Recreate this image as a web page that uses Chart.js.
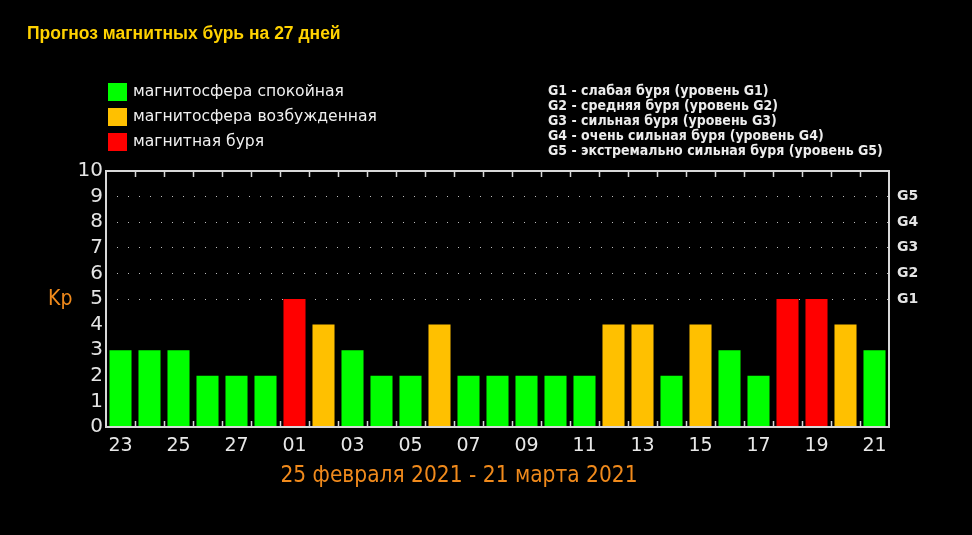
<!DOCTYPE html>
<html>
<head>
<meta charset="utf-8">
<title>Kp</title>
<script src="https://cdn.jsdelivr.net/npm/chart.js@4"></script>
<style>
  html, body { margin: 0; padding: 0; background: #000; }
  #wrap { width: 972px; height: 535px; position: relative; }
</style>
</head>
<body>
<div id="wrap"><canvas id="kp"></canvas></div>
<script>
// данные прогноза (23 февраля - 21 марта)
const days = ['23','24','25','26','27','28','01','02','03','04','05','06','07','08',
              '09','10','11','12','13','14','15','16','17','18','19','20','21'];
const kpValues = [3,3,3,2,2,2,5,4,3,2,2,4,2,2,2,2,2,4,4,2,4,3,2,5,5,4,3];
const gLevels = ['G1','G2','G3','G4','G5']; // Kp 5..9
const legendLabels = ['магнитосфера спокойная', 'магнитосфера возбужденная', 'магнитная буря'];
const legendColors = ['#00ff00', '#ffc000', '#ff0000'];
const gNotes = [
  'G1 - слабая буря (уровень G1)',
  'G2 - средняя буря (уровень G2)',
  'G3 - сильная буря (уровень G3)',
  'G4 - очень сильная буря (уровень G4)',
  'G5 - экстремально сильная буря (уровень G5)'
];
const titleText = 'Прогноз магнитных бурь на 27 дней';
const periodText = '25 февраля 2021 - 21 марта 2021';

const orange = '#f08a1c';
const frameColor = '#d8d8d8';

// цвет столбика по уровню Kp
function barColor(v) {
  if (v >= 5) return legendColors[2];
  if (v >= 4) return legendColors[1];
  return legendColors[0];
}

const decor = {
  id: 'decor',
  beforeDraw(chart) {
    const c = chart.ctx;
    c.save();
    c.fillStyle = '#000';
    c.fillRect(0, 0, chart.width, chart.height);
    c.restore();
  },
  afterDraw(chart) {
    const c = chart.ctx;
    const a = chart.chartArea;
    const xs = chart.scales.x;
    c.save();

    // рамка
    c.strokeStyle = frameColor;
    c.lineWidth = 2;
    c.strokeRect(a.left, a.top, a.right - a.left, a.bottom - a.top);

    // засечки между днями
    c.lineWidth = 1.5;
    c.beginPath();
    for (let i = 0; i < days.length - 1; i++) {
      const px = Math.round((xs.getPixelForValue(i) + xs.getPixelForValue(i + 1)) / 2) + 0.5;
      c.moveTo(px, a.top); c.lineTo(px, a.top + 6);
      c.moveTo(px, a.bottom); c.lineTo(px, a.bottom - 6);
    }
    c.stroke();

    // заголовок
    c.textBaseline = 'middle';
    c.textAlign = 'left';
    c.fillStyle = '#ffd200';
    c.font = 'bold 17.5px "Liberation Sans", Arial, sans-serif';
    c.fillText(titleText, 27, 34);

    // легенда
    c.font = '15.6px "DejaVu Sans", sans-serif';
    legendLabels.forEach((t, i) => {
      c.fillStyle = legendColors[i];
      c.fillRect(108, 83 + 25 * i, 19, 18);
      c.fillStyle = '#f0f0f0';
      c.fillText(t, 133, 92 + 25 * i);
    });

    // уровни G
    c.font = 'bold 14px "DejaVu Sans Condensed", "DejaVu Sans", sans-serif';
    c.fillStyle = '#ececec';
    gNotes.forEach((t, i) => c.fillText(t, 548, 91 + 15 * i));

    // подпись оси
    c.fillStyle = orange;
    c.font = '21px "DejaVu Sans Condensed", "DejaVu Sans", sans-serif';
    c.fillText('Kp', 48, 300);

    // период
    c.font = '22.5px "DejaVu Sans Condensed", "DejaVu Sans", sans-serif';
    c.textAlign = 'center';
    c.fillText(periodText, 459, 476);

    c.restore();
  }
};

new Chart(document.getElementById('kp'), {
  type: 'bar',
  data: {
    labels: days,
    datasets: [{
      data: kpValues,
      backgroundColor: kpValues.map(barColor),
      borderWidth: 0,
      categoryPercentage: 1,
      barPercentage: 0.76
    }]
  },
  options: {
    responsive: true,
    maintainAspectRatio: false,
    animation: false,
    events: [],
    layout: { padding: { top: 171, left: 0, right: 0, bottom: 0 } },
    plugins: { legend: { display: false }, tooltip: { enabled: false } },
    scales: {
      x: {
        type: 'category',
        offset: true,
        grid: { display: false, drawTicks: false },
        border: { display: false },
        ticks: {
          autoSkip: false,
          maxRotation: 0,
          padding: 8,
          color: '#e8e8e8',
          font: { family: '"DejaVu Sans", sans-serif', size: 19 },
          callback: (v, i) => (i % 2 === 0 ? days[i] : '')
        },
        afterFit: s => { s.height = 108; }
      },
      y: {
        position: 'left',
        min: 0,
        max: 10,
        grid: {
          drawTicks: false,
          lineWidth: 1,
          color: ctx => (ctx.tick && ctx.tick.value >= 5 && ctx.tick.value <= 9 ? '#bdbdbd' : 'transparent')
        },
        border: { display: false, dash: [1, 10] },
        ticks: {
          stepSize: 1,
          autoSkip: false,
          padding: 3,
          color: '#e4e4e4',
          font: { family: '"DejaVu Sans", sans-serif', size: 20 }
        },
        afterFit: s => { s.width = 106; }
      },
      y1: {
        position: 'right',
        min: 0,
        max: 10,
        grid: { display: false, drawTicks: false },
        border: { display: false },
        ticks: {
          stepSize: 1,
          autoSkip: false,
          padding: 8,
          color: '#e4e4e4',
          font: { family: '"DejaVu Sans", sans-serif', size: 14, weight: 'bold' },
          callback: v => (v >= 5 && v <= 9 ? gLevels[v - 5] : '')
        },
        afterFit: s => { s.width = 83; }
      }
    }
  },
  plugins: [decor]
});
</script>
</body>
</html>
